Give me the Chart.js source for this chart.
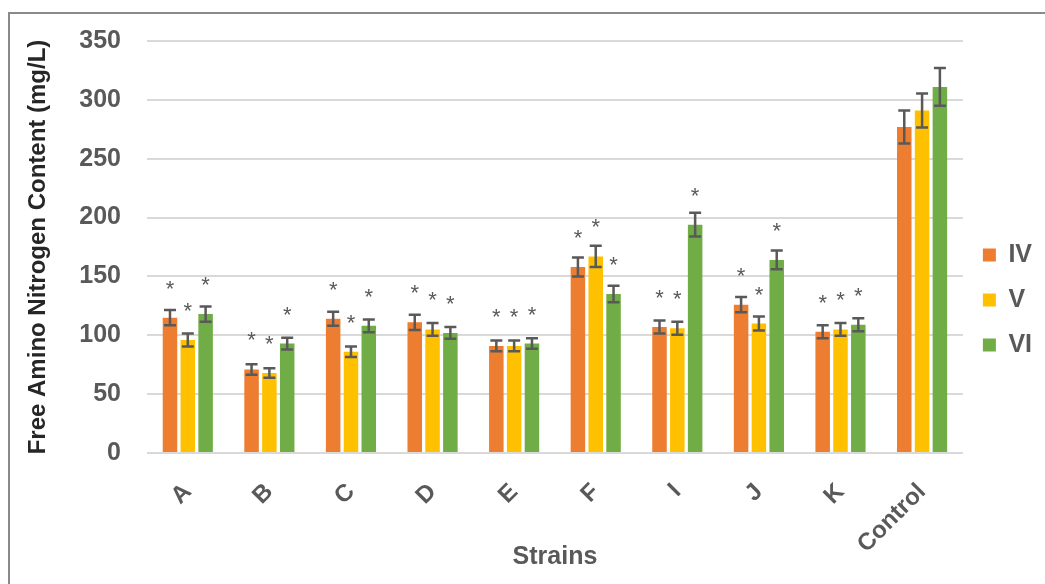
<!DOCTYPE html>
<html>
<head>
<meta charset="utf-8">
<title>Free Amino Nitrogen Content</title>
<script src="https://cdn.jsdelivr.net/npm/chart.js@4/dist/chart.umd.min.js"></script>
<style>
  html, body { margin: 0; padding: 0; background: #fff; overflow: hidden; }
  #frame { position: absolute; left: 8px; top: 12px; width: 1100px; height: 700px;
           border-left: 2px solid #8a8a8a; border-top: 2px solid #8a8a8a; }
  #wrap { position: absolute; left: 0; top: 0; width: 1045px; height: 584px; }
</style>
</head>
<body>
<div id="frame"></div>
<div id="wrap"><canvas id="fanChart"></canvas></div>
<script>
var strains = ["A", "B", "C", "D", "E", "F", "I", "J", "K", "Control"];

var valuesIV = [115, 71, 114, 111, 91, 158, 107, 126, 103, 277];
var valuesV  = [96, 68, 86, 105, 91, 167, 106, 110, 105, 291];
var valuesVI = [118, 93, 108, 102, 93, 135, 194, 164, 109, 311];

var errIV = [6.5, 4.5, 6, 6.5, 4.5, 8, 5.5, 6.5, 5.5, 14];
var errV  = [5.5, 4, 4.5, 5.5, 4.5, 9, 5.5, 6, 5.5, 14.5];
var errVI = [6.5, 5, 5.5, 5, 4.5, 7, 10, 8, 5.5, 16];

// 1 = significant (asterisk over the bar)
var sigIV = [1, 1, 1, 1, 1, 1, 1, 1, 1, 0];
var sigV  = [1, 1, 1, 1, 1, 1, 1, 1, 1, 0];
var sigVI = [1, 1, 1, 1, 1, 1, 1, 1, 1, 0];

var yTicks = [0, 50, 100, 150, 200, 250, 300, 350];

var colourList = ["#ED7D31", "#FFC000", "#70AD47"];
var fontName = "'Liberation Sans', Arial, sans-serif";
var textGrey = "#595959";

function getBarData(label, values, errors, sig, index){
    return {
        label: label,
        data: values,
        errors: errors,
        sig: sig,
        backgroundColor: colourList[index],
        borderWidth: 0,
        categoryPercentage: 0.655,
        barPercentage: 0.815
    }
}

// error bars + asterisks
var errorBarPlugin = {
    id: "errorBars",
    afterDatasetsDraw: function(chart){
        var ctx = chart.ctx;
        var yScale = chart.scales.y;
        ctx.save();
        for(var d=0; d<chart.data.datasets.length; d++){
            var ds = chart.data.datasets[d];
            var meta = chart.getDatasetMeta(d);
            for(var i=0; i<meta.data.length; i++){
                var bar = meta.data[i];
                var v = ds.data[i];
                var top = yScale.getPixelForValue(v + ds.errors[i]);
                var bottom = yScale.getPixelForValue(v - ds.errors[i]);
                ctx.strokeStyle = textGrey;
                ctx.lineWidth = 2.5;
                ctx.beginPath();
                ctx.moveTo(bar.x, top);
                ctx.lineTo(bar.x, bottom);
                ctx.moveTo(bar.x - 6, top);
                ctx.lineTo(bar.x + 6, top);
                ctx.moveTo(bar.x - 6, bottom);
                ctx.lineTo(bar.x + 6, bottom);
                ctx.stroke();
                if(ds.sig[i]){
                    ctx.fillStyle = textGrey;
                    ctx.font = "22px " + fontName;
                    ctx.textAlign = "center";
                    ctx.textBaseline = "alphabetic";
                    ctx.fillText("*", bar.x, bar.y - 22);
                }
            }
        }
        ctx.restore();
    }
};

var fanChart = new Chart(document.getElementById("fanChart"), {
    type: "bar",
    data: {
        labels: strains,
        datasets: [
            getBarData("IV", valuesIV, errIV, sigIV, 0),
            getBarData("V", valuesV, errV, sigV, 1),
            getBarData("VI", valuesVI, errVI, sigVI, 2)
        ]
    },
    options: {
        responsive: true,
        maintainAspectRatio: false,
        animation: false,
        layout: {
            padding: { top: 37, bottom: 21, left: 0, right: 3 }
        },
        plugins: {
            tooltip: { enabled: false },
            legend: {
                position: "right",
                align: "center",
                labels: {
                    color: textGrey,
                    boxWidth: 13,
                    boxHeight: 13,
                    padding: 20,
                    font: { family: fontName, size: 25, weight: "bold" }
                }
            }
        },
        scales: {
            y: {
                min: 0,
                max: 350,
                afterFit: function(scale){ scale.width = 147; },
                afterBuildTicks: function(scale){
                    scale.ticks = yTicks.map(function(t){ return { value: t }; });
                },
                grid: { color: "#d9d9d9", lineWidth: 2, drawTicks: false },
                border: { display: false },
                ticks: {
                    color: textGrey,
                    padding: 26,
                    font: { family: fontName, size: 25, weight: "bold" }
                },
                title: {
                    display: true,
                    text: "Free Amino Nitrogen Content (mg/L)",
                    color: "#262626",
                    padding: { top: 24, bottom: 0 },
                    font: { family: fontName, size: 24, weight: "bold" }
                }
            },
            x: {
                afterFit: function(scale){ scale.height = 110; },
                grid: { display: false },
                border: { display: false },
                ticks: {
                    color: textGrey,
                    minRotation: 45,
                    maxRotation: 45,
                    padding: 17,
                    font: { family: fontName, size: 24, weight: "bold" }
                },
                title: {
                    display: true,
                    text: "Strains",
                    color: textGrey,
                    padding: { top: 0, bottom: -9 },
                    font: { family: fontName, size: 25, weight: "bold" }
                }
            }
        }
    },
    plugins: [errorBarPlugin]
});
</script>
</body>
</html>
